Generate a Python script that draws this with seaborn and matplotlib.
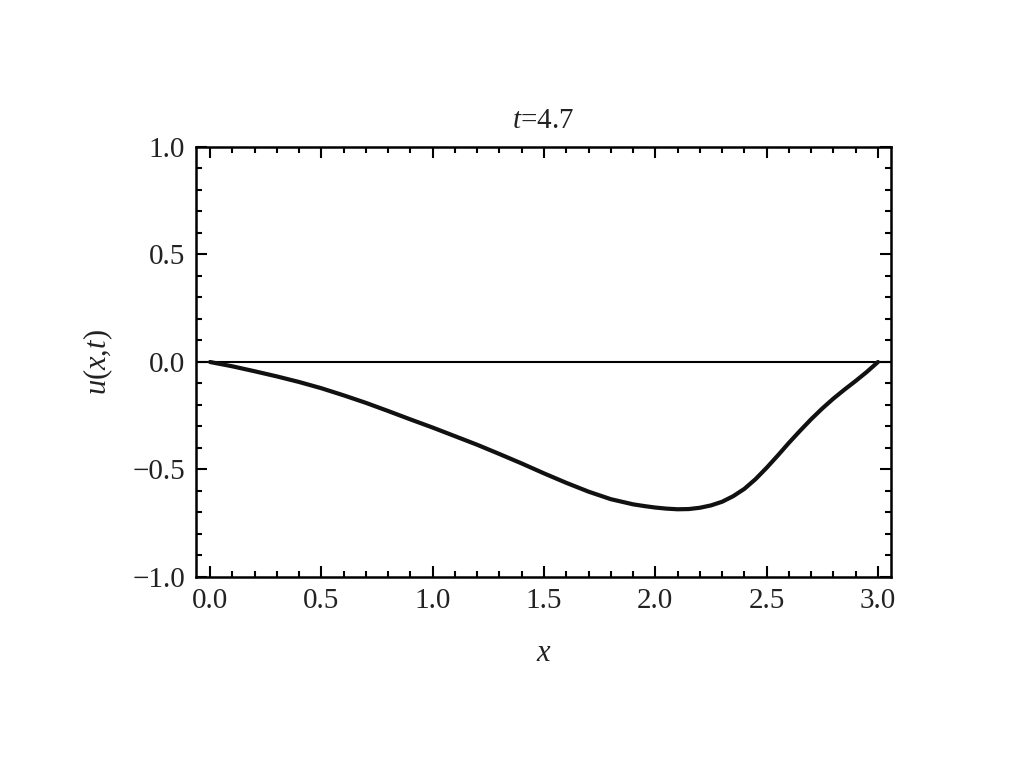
import matplotlib
matplotlib.use("Agg")
import matplotlib.pyplot as plt
import seaborn as sns
import pandas as pd
from matplotlib.ticker import MultipleLocator

x_vals = [0.0, 0.1, 0.2, 0.3, 0.4, 0.5, 0.6, 0.7, 0.8, 0.9, 1.0,
          1.1, 1.2, 1.3, 1.4, 1.5, 1.6, 1.7, 1.8, 1.9, 1.95, 2.0, 2.05,
          2.1, 2.15, 2.2, 2.25, 2.3, 2.35, 2.4, 2.45, 2.5, 2.55, 2.6,
          2.65, 2.7, 2.75, 2.8, 2.85, 2.9, 2.95, 3.0]
u_vals = [0.0, -0.020, -0.043, -0.067, -0.093, -0.122, -0.155, -0.190, -0.228, -0.267, -0.305,
          -0.345, -0.385, -0.428, -0.472, -0.518, -0.562, -0.603, -0.638, -0.662, -0.670, -0.677, -0.682,
          -0.685, -0.684, -0.678, -0.667, -0.650, -0.624, -0.590, -0.545, -0.492, -0.435, -0.376,
          -0.320, -0.266, -0.216, -0.170, -0.128, -0.088, -0.046, 0.0]

title_text = "$t$=4.7"
x_label = "$x$"
y_label = "$u$($x$,$t$)"
x_ticks = [0.0, 0.5, 1.0, 1.5, 2.0, 2.5, 3.0]
x_ticklabels = ["0.0", "0.5", "1.0", "1.5", "2.0", "2.5", "3.0"]
y_ticks = [-1.0, -0.5, 0.0, 0.5, 1.0]
y_ticklabels = ["\u22121.0", "\u22120.5", "0.0", "0.5", "1.0"]

sns.set_theme(style="ticks")
plt.rcParams['font.family'] = ['Liberation Serif', 'DejaVu Serif']
plt.rcParams['mathtext.fontset'] = 'custom'
plt.rcParams['mathtext.rm'] = 'Liberation Serif'
plt.rcParams['mathtext.it'] = 'Liberation Serif:italic'

df = pd.DataFrame({"x": x_vals, "u": u_vals})

fig = plt.figure(figsize=(10.24, 7.68), dpi=100)
ax = fig.add_axes([0.1914, 0.2487, 0.6786, 0.5599])
ax.axhline(0, color="black", lw=1.5, zorder=1)
sns.lineplot(data=df, x="x", y="u", ax=ax, color="#111111", lw=3.0, zorder=2)

ax.set_xlim(-0.063, 3.058)
ax.set_ylim(-1.0, 1.0)
ax.xaxis.set_minor_locator(MultipleLocator(0.1))
ax.yaxis.set_minor_locator(MultipleLocator(0.1))
ax.set_xticks(x_ticks)
ax.set_xticklabels(x_ticklabels)
ax.set_yticks(y_ticks)
ax.set_yticklabels(y_ticklabels)

ax.tick_params(which="both", direction="in", top=True, right=True, color="black", width=1.5)
ax.tick_params(which="major", length=8, labelsize=21, pad=8, labelcolor="#222222")
ax.tick_params(which="minor", length=4)
for s in ax.spines.values():
    s.set_linewidth(1.8)
    s.set_color("black")

ax.set_title(title_text, fontsize=21, pad=14, color="#222222")
ax.set_xlabel(x_label, fontsize=22, labelpad=18, color="#222222")
ax.set_ylabel(y_label, fontsize=22, labelpad=12, color="#222222")

fig.savefig("out.png", dpi=100, facecolor="white")
